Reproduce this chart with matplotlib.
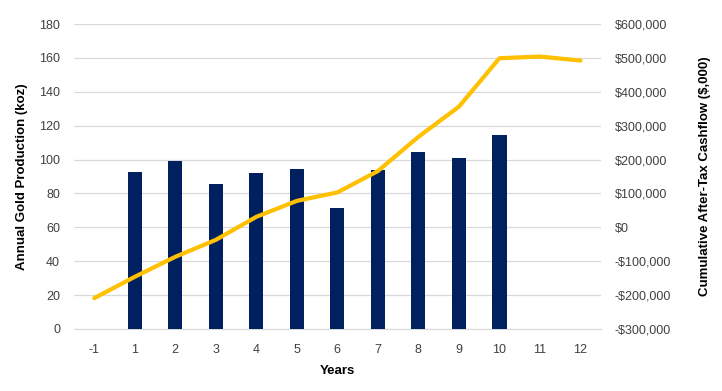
import numpy as np
import matplotlib
matplotlib.use("Agg")
import matplotlib.pyplot as plt
from matplotlib.ticker import FuncFormatter, MultipleLocator

years = ["-1", "1", "2", "3", "4", "5", "6", "7", "8", "9", "10", "11", "12"]
production_koz = [np.nan, 92.6, 99.3, 85.6, 92.0, 94.4, 71.4, 93.9, 104.4, 100.9, 114.5, np.nan, np.nan]
cum_cashflow = [-209000, -146000, -87000, -37000, 31000, 78000, 103000, 166000, 267000, 356000, 499000, 504000, 492000]

plt.rcParams['font.family'] = ['Liberation Sans', 'DejaVu Sans']

fig = plt.figure(figsize=(7.22, 3.91), dpi=100)
ax = fig.add_axes([0.1025, 0.1586, 0.7295, 0.78])
x = np.arange(len(years))

ax.bar(x, production_koz, width=0.35, color="#002060", zorder=3)
ax.set_ylim(0, 180)
ax.yaxis.set_major_locator(MultipleLocator(20))
ax.set_xlim(-0.5, len(years) - 0.5)
ax.set_xticks(x)
ax.set_xticklabels(years)
ax.grid(axis="y", color="#D9D9D9", linewidth=0.9, zorder=0)
for s in ["top", "right", "left"]:
    ax.spines[s].set_visible(False)
ax.spines["bottom"].set_color("#D9D9D9")
ax.tick_params(axis="y", length=0, labelsize=9, colors="#404040", pad=10)
ax.tick_params(axis="x", length=0, labelsize=9, colors="#404040", pad=11)
ax.set_xlabel("Years", fontsize=9.5, fontweight="bold", labelpad=6)
ax.set_ylabel("Annual Gold Production (koz)", fontsize=9.5, fontweight="bold", labelpad=8)

ax2 = ax.twinx()
ax2.plot(x, cum_cashflow, color="#FFC000", linewidth=3, solid_capstyle="round", zorder=4)
ax2.set_ylim(-300000, 600000)
ax2.yaxis.set_major_locator(MultipleLocator(100000))

def fmt(v, pos):
    v = int(round(v))
    if v < 0:
        return "-\\$" + f"{-v:,}"
    return "\\$" + f"{v:,}"

ax2.yaxis.set_major_formatter(FuncFormatter(fmt))
for s in ["top", "right", "left", "bottom"]:
    ax2.spines[s].set_visible(False)
ax2.tick_params(axis="y", length=0, labelsize=9, colors="#404040", pad=10)
ax2.set_ylabel("Cumulative After-Tax Cashflow (\\$,000)", fontsize=9.5, fontweight="bold", labelpad=20)

fig.savefig("out.png", dpi=100)
